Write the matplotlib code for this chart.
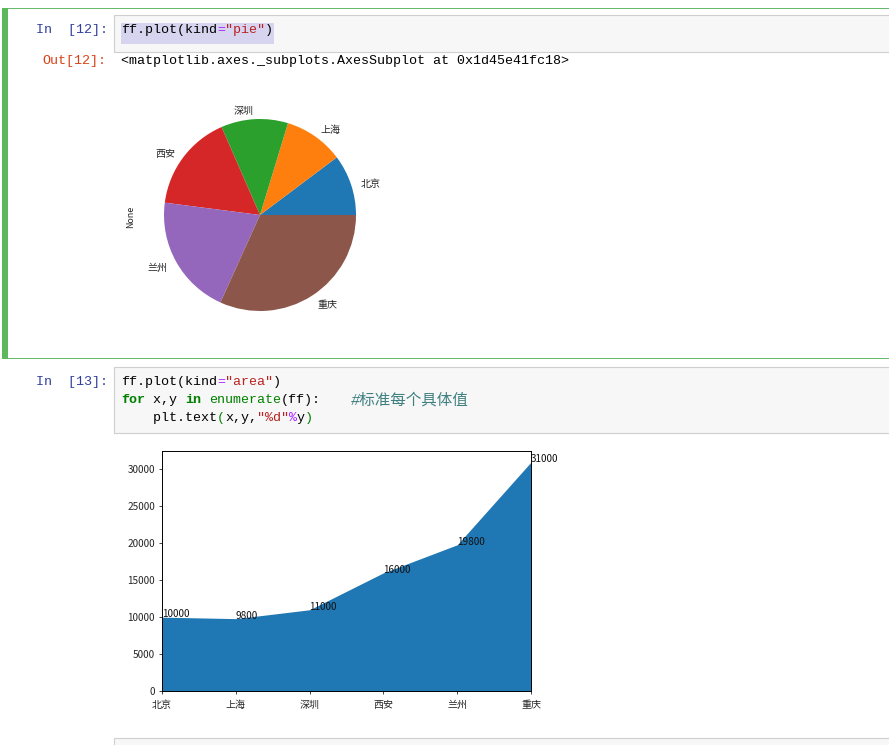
"""
Notebook screenshot: pie and area plot of city values
"""

import matplotlib
matplotlib.use('Agg')
import matplotlib.pyplot as plt
from matplotlib.patches import Rectangle

W, H = 889, 745

cities = ['北京', '上海', '深圳', '西安', '兰州', '重庆']
values = [10000, 9800, 11000, 16000, 19800, 31000]
pie_colors = ['#1f77b4', '#ff7f0e', '#2ca02c', '#d62728', '#9467bd', '#8c564b']
y_ticks = [0, 5000, 10000, 15000, 20000, 25000, 30000]

BLACK = '#000000'
STR = '#ba2121'
OP = '#aa22ff'
KW = '#008000'
COMMENT = '#408080'

pie_cell = [('ff.plot(kind', BLACK), ('=', OP), ('"pie"', STR), (')', BLACK)]
area_line1 = [('ff.plot(kind', BLACK), ('=', OP), ('"area"', STR), (')', BLACK)]
area_line2 = [('for', KW), (' x,y ', BLACK), ('in', KW), (' ', BLACK), ('enumerate', KW),
              ('(ff):', BLACK)]
area_line3 = [('    plt.text', BLACK), ('(', KW), ('x,y,', BLACK), ('"%d"', STR), ('%', OP),
              ('y', BLACK), (')', KW)]
area_comment = '#标准每个具体值'
out_text = '<matplotlib.axes._subplots.AxesSubplot at 0x1d45e41fc18>'

CJK = ['Noto Sans CJK SC', 'DejaVu Sans']
MONO = ['Liberation Mono', 'Noto Sans CJK SC']
CHAR_W = 8.0
CODE_SIZE = 9.6

plt.rcParams['font.family'] = CJK
plt.rcParams['axes.unicode_minus'] = False

fig = plt.figure(figsize=(W / 100, H / 100), dpi=100, facecolor='white')


def px_axes(left, top, right, bottom):
    return fig.add_axes([left / W, 1 - bottom / H, (right - left) / W, (bottom - top) / H])


# page chrome, drawn in pixel coordinates
page = fig.add_axes([0, 0, 1, 1], zorder=0)
page.set_xlim(0, W)
page.set_ylim(H, 0)
page.axis('off')


def box(x0, y0, x1, y1, face, edge='none', lw=0):
    page.add_patch(Rectangle((x0, y0), x1 - x0, y1 - y0, facecolor=face, edgecolor=edge, linewidth=lw))


def code(x, y, tokens):
    for text, color in tokens:
        weight = 'bold' if text in ('for', 'in') else 'normal'
        page.text(x, y, text, color=color, family=MONO, fontsize=CODE_SIZE, fontweight=weight, va='center', ha='left')
        x += len(text) * CHAR_W


# selected cell
box(2, 8, 889, 8.8, '#66bb6a')
box(2, 358, 889, 358.8, '#66bb6a')
box(2, 8, 8, 359, '#5cb85c')

# input boxes
box(113.5, 14.5, 895, 52, '#f7f7f7', '#cfcfcf', 0.8)
box(113.5, 366.5, 895, 433, '#f7f7f7', '#cfcfcf', 0.8)
box(113.5, 737.5, 895, 750, '#f7f7f7', '#cfcfcf', 0.8)
box(121, 23, 274, 44, '#d7d4f0')

page.text(36, 30, 'In  [12]:', color='#303f9f', family=MONO, fontsize=CODE_SIZE, va='center')
page.text(42, 61, 'Out[12]:', color='#d84315', family=MONO, fontsize=CODE_SIZE, va='center')
page.text(36, 382, 'In  [13]:', color='#303f9f', family=MONO, fontsize=CODE_SIZE, va='center')

code(121, 30, pie_cell)
code(121, 61, [(out_text, BLACK)])
code(121, 382, area_line1)
code(121, 400, area_line2)
code(121, 418, area_line3)
page.text(351, 400, area_comment, color=COMMENT, family=MONO, fontsize=11.2, style='italic', va='center')

# pie
ax1 = px_axes(164, 119, 356, 311)
ax1.set_zorder(1)
wedges, texts = ax1.pie(values, labels=cities, colors=pie_colors, textprops={'fontsize': 7.2, 'color': '#262626'})
for t in texts:
    tx, ty = t.get_position()
    t.set_position((tx, ty - 0.02))
ax1.set_xlim(-1, 1)
ax1.set_ylim(-1, 1)
page.text(131, 217, 'None', rotation=90, fontsize=6.4, color='#262626', ha='center', va='center')

# area
ax2 = px_axes(162, 451, 531, 691)
ax2.set_zorder(1)
positions = list(range(len(cities)))
ax2.fill_between(positions, values, 0, color='#1f77b4', linewidth=0)
for x, y in enumerate(values):
    ax2.text(x, y, '%d' % y, fontsize=7.2, color='#111111', clip_on=False)
ax2.set_xlim(0, 5)
ax2.set_ylim(0, 32500)
ax2.set_xticks(positions)
ax2.set_xticklabels(cities)
ax2.set_yticks(y_ticks)
ax2.tick_params(labelsize=7.2, length=2.5, width=0.6, pad=2.5, colors='#262626')
ax2.tick_params(axis='x', pad=4)
for spine in ax2.spines.values():
    spine.set_linewidth(0.7)

plt.savefig('out.png', dpi=100, facecolor='white')
